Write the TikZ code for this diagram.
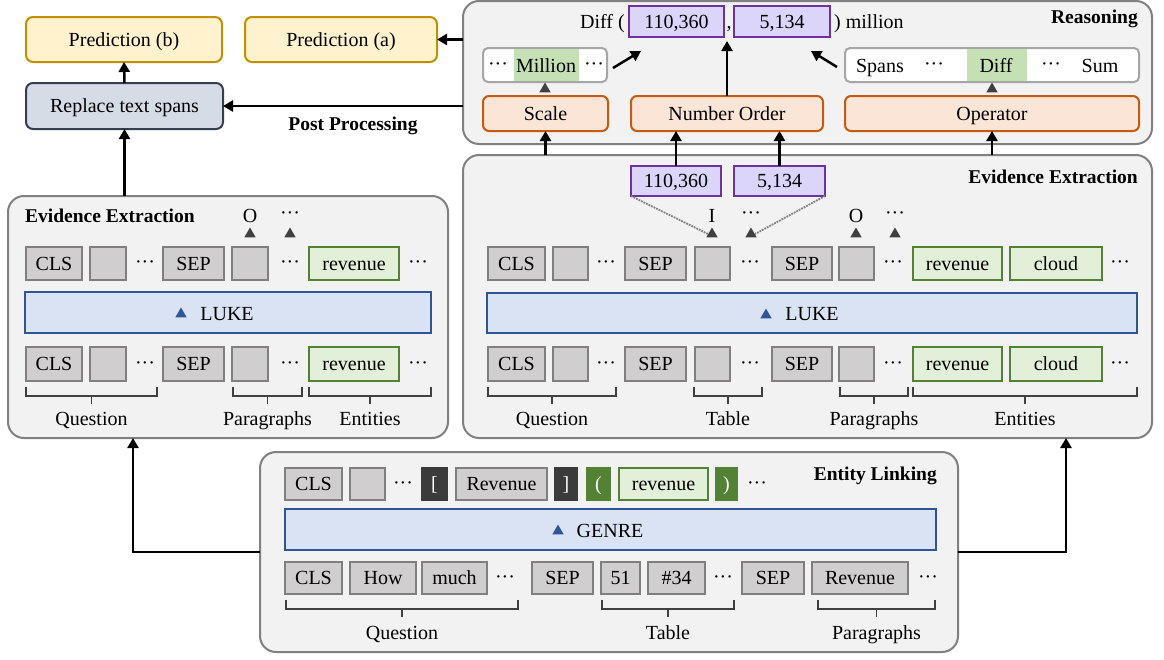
\documentclass[tikz,border=0pt]{standalone}
\usepackage{fontspec}
\setmainfont{Liberation Serif}
\usetikzlibrary{arrows.meta,shapes.geometric}
\definecolor{panelfill}{HTML}{F2F2F2}
\definecolor{panelline}{HTML}{808080}
\definecolor{tokfill}{HTML}{D0CECE}
\definecolor{tokline}{HTML}{7F7F7F}
\definecolor{entfill}{HTML}{E2F0D9}
\definecolor{entline}{HTML}{548235}
\definecolor{lmfill}{HTML}{DAE3F3}
\definecolor{lmline}{HTML}{2F5597}
\definecolor{orfill}{HTML}{FBE5D6}
\definecolor{orline}{HTML}{C55A11}
\definecolor{prfill}{HTML}{FFF2CC}
\definecolor{prline}{HTML}{BF9000}
\definecolor{rpfill}{HTML}{D6DCE5}
\definecolor{rpline}{HTML}{333F50}
\definecolor{nmfill}{HTML}{DCD5FA}
\definecolor{nmline}{HTML}{7030A0}
\definecolor{darkbox}{HTML}{3B3B3B}
\definecolor{greenmark}{HTML}{C5E0B4}
\definecolor{trigray}{HTML}{404040}
\definecolor{lstline}{HTML}{A6A6A6}
\newcommand\mydots{\char"B7\char"B7\char"B7}
\newcommand\bx[7]{\node[#2, minimum width={#4-#3}, minimum height={#6-#5}] (#1) at ({(#3+#4)/2},{(#5+#6)/2}) {#7};}
\newcommand\dt[3]{\node[inner sep=0pt, anchor=base] (#1) at (#2,#3+5) {\mydots};}
\newcommand\brc[6]{\draw[brcline] (#2,#4-9) -- (#2,#4) -- (#3,#4) -- (#3,#4-9);
  \draw[brcline] ({(#2+#3)/2},#4) -- ({(#2+#3)/2},#4+8);
  \node[anchor=base, inner sep=0pt] (#1) at ({(#2+#3)/2},#5) {#6};}
\begin{document}
\begin{tikzpicture}[x=1pt,y=-1pt,font=\fontsize{20}{23}\selectfont,
  base/.style={draw, inner sep=0pt, outer sep=0pt, line width=2pt, text height=13.5pt, text depth=0pt},
  panel/.style={base, draw=panelline, fill=panelfill, rounded corners=16pt},
  tok/.style={base, draw=tokline, fill=tokfill},
  ent/.style={base, draw=entline, fill=entfill},
  dk/.style={base, draw=darkbox, fill=darkbox, text=white},
  gk/.style={base, draw=entline, fill=entline, text=white},
  lm/.style={base, draw=lmline, fill=lmfill},
  modbox/.style={base, draw=orline, fill=orfill, rounded corners=6pt},
  pred/.style={base, draw=prline, fill=prfill, rounded corners=7pt},
  repl/.style={base, draw=rpline, fill=rpfill, rounded corners=7pt},
  num/.style={base, draw=nmline, fill=nmfill},
  lst/.style={base, draw=lstline, fill=white, rounded corners=5pt},
  title/.style={font=\fontsize{19.5}{22}\selectfont\bfseries, inner sep=0pt},
  tri/.style={regular polygon, regular polygon sides=3, fill=trigray, inner sep=0pt, minimum size=13pt},
  ltri/.style={tri, fill=lmline, minimum size=13pt},
  arr/.style={-{Triangle[length=10pt,width=11pt]}, line width=2.5pt},
  dotline/.style={densely dotted, line width=1.8pt, draw=gray},
  brcline/.style={line width=1.6pt, draw=trigray}]
\useasboundingbox (0,0) rectangle (1164,659);

% ---------- top left ----------
\bx{pb}{pred}{26}{222}{17}{62}{Prediction (b)}
\bx{pa}{pred}{245}{437}{17}{62}{Prediction (a)}
\bx{rep}{repl}{26}{223}{83}{129}{Replace text spans}

% ---------- reasoning panel ----------
\bx{reas}{panel}{463}{1152}{1}{144}{}
\node[title, anchor=base east] (reasT) at (1138,23) {Reasoning};
\bx{d1}{num}{629}{724}{6}{37}{110,360}
\bx{d2}{num}{734}{830}{6}{37}{5,134}
\node[anchor=base east, inner sep=0pt] (diffL) at (625,28) {Diff (};
\node[anchor=base, inner sep=0pt] (comma) at (729,28) {,};
\node[anchor=base west, inner sep=0pt] (diffR) at (834,28) {) million};
\bx{mil}{lst}{483}{607}{48}{82}{}
\fill[greenmark] (514,49) rectangle (579,81);
\dt{milA}{498}{65}
\node[anchor=base, inner sep=0pt] (milT) at (546,72) {Million};
\dt{milB}{594}{65}
\bx{opl}{lst}{845}{1139}{48}{82}{}
\fill[greenmark] (967,49) rectangle (1027,81);
\node[anchor=base, inner sep=0pt] (opS) at (880,72) {Spans};
\dt{opA}{934}{65}
\node[anchor=base, inner sep=0pt] (opD) at (996,72) {Diff};
\dt{opB}{1051}{65}
\node[anchor=base, inner sep=0pt] (opU) at (1100,72) {Sum};
\bx{scale}{modbox}{483}{608}{96}{131}{Scale}
\bx{numo}{modbox}{631}{823}{96}{131}{Number Order}
\bx{oper}{modbox}{845}{1139}{96}{131}{Operator}
\node[tri] (tS) at (545,89) {};
\node[tri] (tO) at (992,89) {};
\coordinate (numoTip) at (727,41);
\coordinate (milTail) at (613,68);
\coordinate (milTip) at (641,51);
\coordinate (oplTail) at (837,67);
\coordinate (oplTip) at (811,51);
\draw[arr] (numo.north) -- (numoTip);
\draw[arr] (milTail) -- (milTip);
\draw[arr] (oplTail) -- (oplTip);

% ---------- right evidence extraction ----------
\bx{eeR}{panel}{463}{1152}{155}{438}{}
\node[title, anchor=base east] (eeRT) at (1138,183) {Evidence Extraction};
\bx{n1}{num}{631}{721}{166}{196}{110,360}
\bx{n2}{num}{734}{825}{166}{196}{5,134}
\node[anchor=base, inner sep=0pt] (lI) at (712,222) {I};
\dt{rdA}{751}{214}
\node[anchor=base, inner sep=0pt] (lO) at (856,222) {O};
\dt{rdB}{895}{214}
\node[tri] (tI) at (712,234) {};
\node[tri] (tA) at (751,234) {};
\node[tri] (tB) at (856,234) {};
\node[tri] (tC) at (895,234) {};
\draw[dotline] (n1.south west) -- (tI.west);
\draw[dotline] (n2.south east) -- (tA.east);
% top row
\bx{rT1}{tok}{488}{545}{247}{280}{CLS}
\bx{rT2}{tok}{553}{588}{247}{280}{}
\dt{rT3}{606}{263}
\bx{rT4}{tok}{625}{686}{247}{280}{SEP}
\bx{rT5}{tok}{695}{730}{247}{280}{}
\dt{rT6}{750}{263}
\bx{rT7}{tok}{772}{832}{247}{280}{SEP}
\bx{rT8}{tok}{839}{874}{247}{280}{}
\dt{rT9}{893}{263}
\bx{rT10}{ent}{913}{1002}{247}{280}{revenue}
\bx{rT11}{ent}{1010}{1102}{247}{280}{cloud}
\dt{rT12}{1120}{263}
\bx{lukeR}{lm}{487}{1137}{293}{333}{}
\node[ltri] (lukeRtri) at (766,315) {};
\node[anchor=base, inner sep=0pt] (lukeRt) at (812,320) {LUKE};
% bottom row
\bx{rB1}{tok}{488}{545}{347}{381}{CLS}
\bx{rB2}{tok}{553}{588}{347}{381}{}
\dt{rB3}{606}{364}
\bx{rB4}{tok}{625}{686}{347}{381}{SEP}
\bx{rB5}{tok}{695}{730}{347}{381}{}
\dt{rB6}{750}{364}
\bx{rB7}{tok}{772}{832}{347}{381}{SEP}
\bx{rB8}{tok}{839}{874}{347}{381}{}
\dt{rB9}{893}{364}
\bx{rB10}{ent}{913}{1002}{347}{381}{revenue}
\bx{rB11}{ent}{1010}{1102}{347}{381}{cloud}
\dt{rB12}{1120}{364}
\brc{rQ}{488}{616}{396}{425}{Question}
\brc{rTb}{694}{762}{396}{425}{Table}
\brc{rP}{840}{908}{396}{425}{Paragraphs}
\brc{rE}{913}{1137}{396}{425}{Entities}

% ---------- left evidence extraction ----------
\bx{eeL}{panel}{8}{448}{196}{438}{}
\node[title, anchor=base west] (eeLT) at (25,222) {Evidence Extraction};
\node[anchor=base, inner sep=0pt] (lO2) at (250,222) {O};
\dt{ldA}{290}{214}
\node[tri] (tL1) at (250,234) {};
\node[tri] (tL2) at (290,234) {};
\bx{lT1}{tok}{26}{82}{247}{280}{CLS}
\bx{lT2}{tok}{90}{126}{247}{280}{}
\dt{lT3}{145}{263}
\bx{lT4}{tok}{163}{224}{247}{280}{SEP}
\bx{lT5}{tok}{232}{268}{247}{280}{}
\dt{lT6}{290}{263}
\bx{lT7}{ent}{309}{399}{247}{280}{revenue}
\dt{lT8}{418}{263}
\bx{lukeL}{lm}{25}{431}{292}{333}{}
\node[ltri] (lukeLtri) at (181,314) {};
\node[anchor=base, inner sep=0pt] (lukeLt) at (227,320) {LUKE};
\bx{lB1}{tok}{26}{82}{347}{381}{CLS}
\bx{lB2}{tok}{90}{126}{347}{381}{}
\dt{lB3}{145}{364}
\bx{lB4}{tok}{163}{224}{347}{381}{SEP}
\bx{lB5}{tok}{232}{268}{347}{381}{}
\dt{lB6}{290}{364}
\bx{lB7}{ent}{309}{399}{347}{381}{revenue}
\dt{lB8}{418}{364}
\brc{lQ}{26}{157}{396}{425}{Question}
\brc{lP}{233}{302}{396}{425}{Paragraphs}
\brc{lE}{309}{431}{396}{425}{Entities}

% ---------- entity linking ----------
\bx{el}{panel}{260}{958}{452}{652}{}
\node[title, anchor=base east] (elT) at (937,480) {Entity Linking};
\bx{eT1}{tok}{285}{342}{468}{500}{CLS}
\bx{eT2}{tok}{350}{385}{468}{500}{}
\dt{eT3}{403}{484}
\bx{eT4}{dk}{422}{447}{468}{500}{[}
\bx{eT5}{tok}{456}{547}{468}{500}{Revenue}
\bx{eT6}{dk}{555}{577}{468}{500}{]}
\bx{eT7}{gk}{587}{610}{468}{500}{(}
\bx{eT8}{ent}{619}{708}{468}{500}{revenue}
\bx{eT9}{gk}{716}{737}{468}{500}{)}
\dt{eT10}{757}{484}
\bx{genre}{lm}{285}{936}{509}{550}{}
\node[ltri] (genreTri) at (558,531) {};
\node[anchor=base, inner sep=0pt] (genreT) at (610,537) {GENRE};
\bx{eB1}{tok}{285}{342}{562}{594}{CLS}
\bx{eB2}{tok}{350}{416}{562}{594}{How}
\bx{eB3}{tok}{422}{487}{562}{594}{much}
\dt{eB4}{505}{578}
\bx{eB5}{tok}{532}{593}{562}{594}{SEP}
\bx{eB6}{tok}{601}{640}{562}{594}{51}
\bx{eB7}{tok}{648}{705}{562}{594}{\#34}
\dt{eB8}{723}{578}
\bx{eB9}{tok}{742}{804}{562}{594}{SEP}
\bx{eB10}{tok}{812}{908}{562}{594}{Revenue}
\dt{eB11}{928}{578}
\brc{eQ}{286}{518}{609}{639}{Question}
\brc{eTb}{602}{734}{609}{639}{Table}
\brc{eP}{818}{935}{609}{639}{Paragraphs}

% ---------- connectors ----------
\coordinate (lx) at (133,0);
\coordinate (rx) at (1066,0);
\draw[arr] (el.west) -| (eeL.south -| lx);
\draw[arr] (el.east) -| (eeR.south -| rx);
\draw[arr] (rep.south |- eeL.north) -- (rep.south);
\draw[arr] (rep.north) -- (pb.south);
\draw[arr] (reas.west |- pa) -- (pa.east);
\draw[arr] (reas.west |- rep) -- (rep.east);
\node[title] (pp) at (353,126) {Post Processing};
\draw[arr] (scale.south |- eeR.north) -- (scale.south);
\draw[arr] (n1.north) -- (n1.north |- numo.south);
\draw[arr] (n2.north) -- (n2.north |- numo.south);
\draw[arr] (oper.south |- eeR.north) -- (oper.south);
\end{tikzpicture}
\end{document}
